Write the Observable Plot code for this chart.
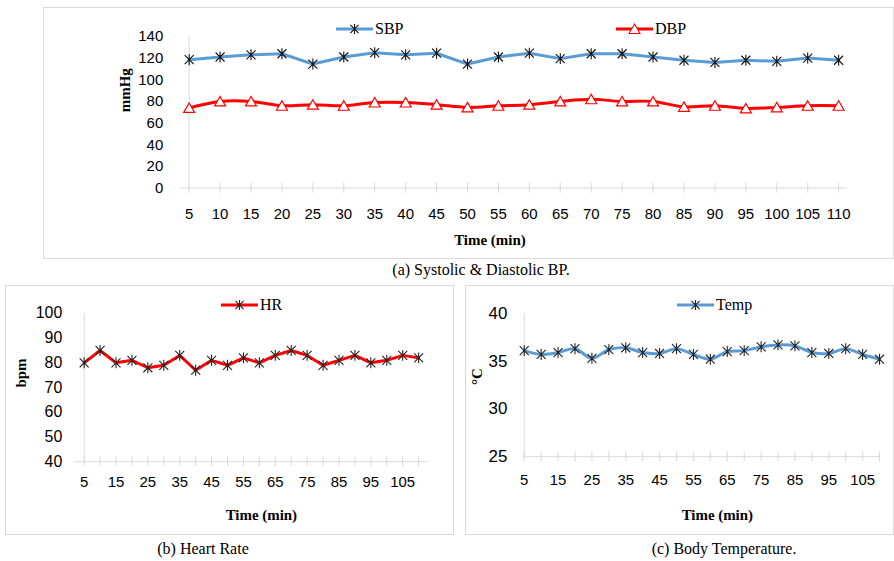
<!DOCTYPE html>
<html><head><meta charset="utf-8">
<script src="https://cdn.jsdelivr.net/npm/d3@7"></script>
<script src="https://cdn.jsdelivr.net/npm/@observablehq/plot@0.6"></script>
<style>
body{margin:0;background:#fff;}
#root{position:relative;width:894px;height:561px;overflow:hidden;font-family:"Liberation Serif","Times New Roman",serif;color:#000;}
.panel{position:absolute;border:1px solid #d9d9d9;box-sizing:border-box;}
.panel svg{position:absolute;left:-1px;top:-1px;overflow:visible;}
.caption{position:absolute;font-size:16px;transform:translateX(-50%);white-space:nowrap;line-height:18px;}
.legend{position:absolute;font-size:16px;display:flex;align-items:center;white-space:nowrap;height:20px;}
.legend svg{margin-right:2px;}
</style>
</head><body>
<div id="root"></div>
<script>
// ---- data ----
const times = [5,10,15,20,25,30,35,40,45,50,55,60,65,70,75,80,85,90,95,100,105,110];
const sbp  = [118.5,121,123,124,114.5,121,125,123,124.5,114.5,121,124.5,119.5,124,124,121,118,116,118,117,120,118];
const dbp  = [74,80,80,76,77,76,79,79,77,74.5,76,77,80,82,80,80,75,76,73.5,74.5,76,76];
const hr   = [80,85,80,81,78,79,83,77,81,79,82,80,83,85,83,79,81,83,80,81,83,82];
const temp = [36.1,35.7,35.9,36.3,35.3,36.2,36.4,35.9,35.8,36.3,35.7,35.2,36.0,36.1,36.5,36.7,36.6,35.9,35.8,36.3,35.7,35.2];
const bpTicks = [0,20,40,60,80,100,120,140];
const hrTicks = [40,50,60,70,80,90,100];
const tempTicks = [25,30,35,40];
const topXLabels = times;
const bottomXLabels = [5,15,25,35,45,55,65,75,85,95,105];

// ---- styles ----
const GRID = "#d9d9d9";
const BLUE = "#5b9bd5";
const RED = "#ff0000";
const SERIF = "Liberation Serif";
const SANS = "Liberation Sans";

const star = {draw(ctx, size){ const r = Math.sqrt(size/Math.PI); const d = r*0.82;
  ctx.moveTo(0,-r); ctx.lineTo(0,r); ctx.moveTo(-d,-d); ctx.lineTo(d,d); ctx.moveTo(-d,d); ctx.lineTo(d,-d);} };
const tri = {draw(ctx, size){ const r = Math.sqrt(size/Math.PI);
  ctx.moveTo(0,-r); ctx.lineTo(r*1.1, r*0.9); ctx.lineTo(-r*1.1, r*0.9); ctx.closePath();} };

const rows = vals => times.map((t,i) => ({t, v: vals[i]}));

function frameMarks(y0, yTicks, o) {
  return [
    Plot.ruleY([y0], {stroke: GRID, strokeWidth: 1}),
    Plot.ruleX([times[0]], {stroke: GRID, strokeWidth: 1}),
    Plot.ruleX(times, {x: d => d, y1: y0, y2: y0, insetTop: -5, insetBottom: -5, stroke: GRID}),
    Plot.axisY({ticks: yTicks, tickSize: 0, tickPadding: o.yPad, label: null, fontSize: o.yFont, fontFamily: SANS}),
    Plot.axisX({ticks: times, tickSize: 0, tickPadding: o.xPad, label: null, fontSize: 15, fontFamily: SANS,
      tickFormat: d => o.xLabels.includes(d) ? String(d) : ""}),
    Plot.text(["Time (min)"], {text: d => d, frameAnchor: "bottom", dx: o.tdx, dy: o.tdy, fontWeight: "bold", fontFamily: SERIF, fontSize: 15}),
    Plot.text([o.ylabel], {text: d => d, frameAnchor: "left", rotate: -90, dx: o.ldx, fontWeight: "bold", fontFamily: SERIF, fontSize: 15})
  ];
}

const root = document.getElementById("root");
function addPanel(left, top, w, h, svg) {
  const div = document.createElement("div");
  div.className = "panel";
  Object.assign(div.style, {left: left+"px", top: top+"px", width: w+"px", height: h+"px"});
  div.appendChild(svg);
  root.appendChild(div);
}
function addCaption(text, cx, top) {
  const d = document.createElement("div"); d.className = "caption"; d.textContent = text;
  d.style.left = cx + "px"; d.style.top = top + "px"; root.appendChild(d);
}
function addLegend(label, color, sym, markerStroke, markerFill, left, cy) {
  const d = document.createElement("div"); d.className = "legend";
  d.style.left = left + "px"; d.style.top = (cy - 10) + "px";
  const s = d3.create("svg").attr("width", 37).attr("height", 14);
  s.append("line").attr("x1", 0).attr("x2", 37).attr("y1", 7).attr("y2", 7).attr("stroke", color).attr("stroke-width", 3);
  s.append("path").attr("transform", "translate(18.5,7)").attr("d", d3.symbol(sym, Math.PI*25)())
    .attr("stroke", markerStroke).attr("fill", markerFill).attr("stroke-width", 1.1);
  d.appendChild(s.node());
  const t = document.createElement("span"); t.textContent = label; d.appendChild(t);
  root.appendChild(d);
}

// (a) blood pressure
const bpPlot = Plot.plot({
  width: 851, height: 252,
  marginLeft: 137, marginRight: 45, marginTop: 29, marginBottom: 71,
  style: {fontFamily: SANS, fontSize: "15px", color: "#000", background: "transparent", overflow: "visible"},
  x: {type: "point", domain: times, padding: 0},
  y: {domain: [0, 140]},
  marks: [
    ...frameMarks(0, bpTicks, {yPad: 17, yFont: 15, xPad: 20, xLabels: topXLabels, tdx: -24, tdy: 57, ylabel: "mmHg", ldx: -55}),
    Plot.line(rows(sbp), {x: "t", y: "v", stroke: BLUE, strokeWidth: 3}),
    Plot.dot(rows(sbp), {x: "t", y: "v", symbol: star, r: 5.5, stroke: "#111", strokeWidth: 1.1}),
    Plot.line(rows(dbp), {x: "t", y: "v", stroke: RED, strokeWidth: 3, curve: "catmull-rom"}),
    Plot.dot(rows(dbp), {x: "t", y: "v", symbol: tri, r: 5, stroke: RED, fill: "white", strokeWidth: 1.2})
  ]
});
addPanel(43, 7, 851, 252, bpPlot);

// (b) heart rate
const hrPlot = Plot.plot({
  width: 449, height: 250,
  marginLeft: 69, marginRight: 24, marginTop: 28, marginBottom: 73,
  style: {fontFamily: SANS, fontSize: "15px", color: "#000", background: "transparent", overflow: "visible"},
  x: {type: "point", domain: times, padding: 0},
  y: {domain: [40, 100]},
  marks: [
    ...frameMarks(40, hrTicks, {yPad: 12, yFont: 16, xPad: 15, xLabels: bottomXLabels, tdx: 10, tdy: 59, ylabel: "bpm", ldx: -53}),
    Plot.line(rows(hr), {x: "t", y: "v", stroke: RED, strokeWidth: 3}),
    Plot.dot(rows(hr), {x: "t", y: "v", symbol: star, r: 5.5, stroke: "#222", strokeWidth: 1.1})
  ]
});
addPanel(5, 285, 449, 250, hrPlot);

// (c) body temperature
const tPlot = Plot.plot({
  width: 429, height: 250,
  marginLeft: 58, marginRight: 13, marginTop: 28, marginBottom: 78,
  style: {fontFamily: SANS, fontSize: "15px", color: "#000", background: "transparent", overflow: "visible"},
  x: {type: "point", domain: times, padding: 0},
  y: {domain: [25, 40]},
  marks: [
    ...frameMarks(25, tempTicks, {yPad: 16, yFont: 17, xPad: 18, xLabels: bottomXLabels, tdx: 16, tdy: 64, ylabel: "°C", ldx: -46}),
    Plot.line(rows(temp), {x: "t", y: "v", stroke: BLUE, strokeWidth: 3, curve: "catmull-rom"}),
    Plot.dot(rows(temp), {x: "t", y: "v", symbol: star, r: 5.5, stroke: "#222", strokeWidth: 1.1})
  ]
});
addPanel(465, 285, 429, 250, tPlot);

// legends
addLegend("SBP", BLUE, star, "#111", "none", 336, 29);
addLegend("DBP", RED, tri, RED, "white", 616, 29);
addLegend("HR", RED, star, "#222", "none", 221, 305);
addLegend("Temp", BLUE, star, "#222", "none", 677, 305);

// captions
addCaption("(a) Systolic & Diastolic BP.", 481, 261);
addCaption("(b) Heart Rate", 203, 540);
addCaption("(c) Body Temperature.", 724, 540);
</script>
</body></html>
